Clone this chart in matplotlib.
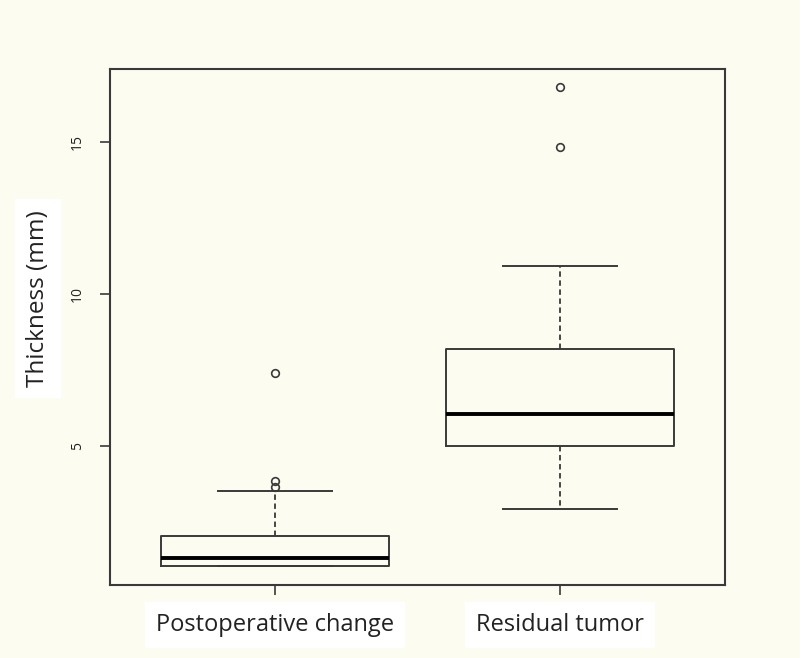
import matplotlib
matplotlib.use('Agg')
import matplotlib.pyplot as plt

plt.rcParams['font.family'] = ['Open Sans', 'DejaVu Sans']

groups = ['Postoperative change', 'Residual tumor']
q1 = [1.05, 5.0]
med = [1.33, 6.05]
q3 = [2.04, 8.19]
whislo = [1.05, 2.93]
whishi = [3.53, 10.92]
fliers = [[3.66, 3.85, 7.40], [14.84, 16.81]]

bg = '#fdfcf1'
ink = '#3a3a3a'

stats = []
for i in range(len(groups)):
    stats.append(dict(label=groups[i], q1=q1[i], med=med[i], q3=q3[i],
                      whislo=whislo[i], whishi=whishi[i], fliers=fliers[i]))

fig = plt.figure(figsize=(8, 6.58), dpi=100, facecolor=bg)
ax = fig.add_axes([0.1375, 0.111, 0.7687, 0.784])
ax.set_facecolor(bg)

ax.bxp(stats, positions=[1, 2], widths=0.8, showfliers=True,
       boxprops=dict(color=ink, linewidth=1.4),
       medianprops=dict(color='black', linewidth=2.8),
       whiskerprops=dict(color=ink, linewidth=1.3, linestyle=(0, (3, 2))),
       capprops=dict(color=ink, linewidth=1.4),
       capwidths=0.4,
       flierprops=dict(marker='o', markerfacecolor='none', markeredgecolor=ink,
                       markersize=5.5, markeredgewidth=1.2))

ax.set_xlim(0.421, 2.579)
ax.set_ylim(0.43, 17.4)
ax.set_yticks([5, 10, 15])
ax.set_yticklabels(['5', '10', '15'], rotation=90, va='center', fontsize=10)
ax.set_xticks([1, 2])
ax.set_xticklabels(groups, fontsize=17)
for lab in ax.get_xticklabels():
    lab.set_bbox(dict(facecolor='white', edgecolor='none', pad=8))
ax.tick_params(axis='both', colors=ink, length=7, width=1.2, labelcolor='#222222')
ax.tick_params(axis='x', pad=13)
ax.tick_params(axis='y', pad=11)
for s in ax.spines.values():
    s.set_color(ink)
    s.set_linewidth(1.5)

ax.set_ylabel('Thickness (mm)', fontsize=17.5, color='#222222',
              bbox=dict(facecolor='white', edgecolor='none', pad=8))
ax.yaxis.set_label_coords(-0.098, 0.556)

plt.savefig('out.png', dpi=100, facecolor=bg)
